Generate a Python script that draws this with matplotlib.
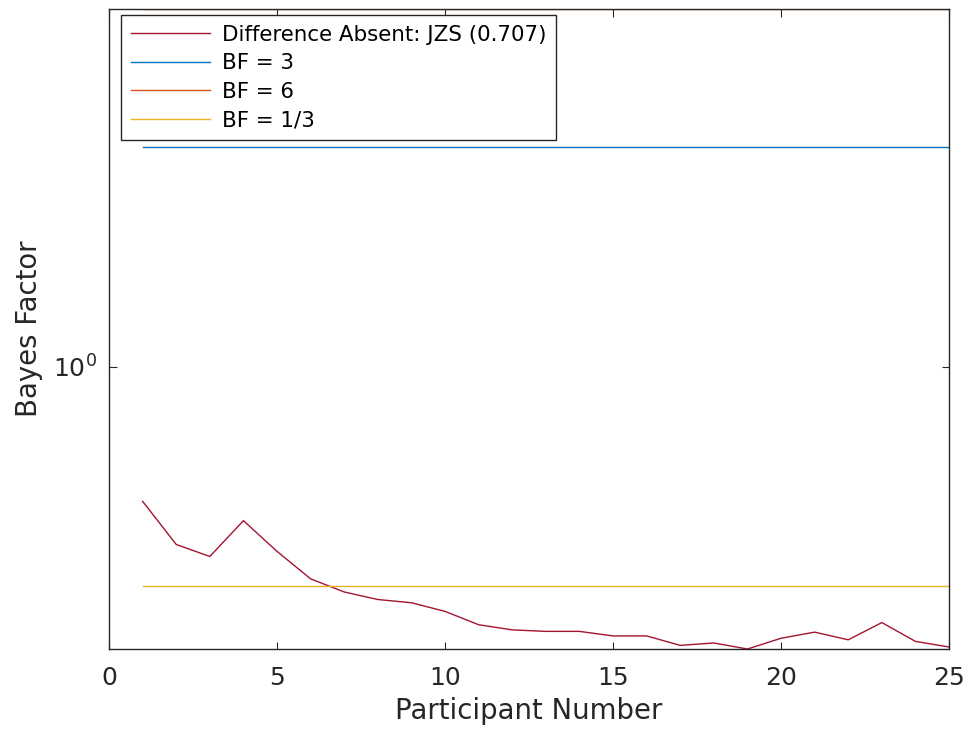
import numpy as np
import matplotlib
matplotlib.use("Agg")
import matplotlib.pyplot as plt
from matplotlib.ticker import FixedLocator, NullLocator, LogFormatterMathtext

# Bayes factor per participant (JZS prior, r = 0.707)
participants = np.arange(1, 26)
bf_absent = [0.510, 0.411, 0.387, 0.463, 0.397, 0.346, 0.324, 0.312, 0.307, 0.294,
             0.275, 0.268, 0.266, 0.266, 0.260, 0.260, 0.248, 0.251, 0.2435, 0.257,
             0.265, 0.255, 0.278, 0.253, 0.246]
thresholds = [3, 6, 1 / 3]
threshold_labels = ["BF = 3", "BF = 6", "BF = 1/3"]

fg = "#262626"
plt.rcParams["font.family"] = "DejaVu Sans"

fig = plt.figure(figsize=(9.7, 7.29), dpi=100)
ax = fig.add_axes([0.1124, 0.1097, 0.866, 0.878])

ax.plot(participants, bf_absent, color="#A2142F", lw=1.0,
        label="Difference Absent: JZS (0.707)")
for val, lab, col in zip(thresholds, threshold_labels, ["#0072BD", "#D95319", "#EDB120"]):
    ax.plot(participants, [val] * len(participants), color=col, lw=1.0, label=lab)

ax.set_yscale("log")
ax.set_xlim(0, 25)
ax.set_ylim(min(bf_absent), 6)
ax.xaxis.set_major_locator(FixedLocator([0, 5, 10, 15, 20, 25]))
ax.yaxis.set_major_locator(FixedLocator([1]))
ax.yaxis.set_major_formatter(LogFormatterMathtext())
ax.yaxis.set_minor_locator(NullLocator())

ax.tick_params(direction="in", length=5.4, width=0.8, color=fg, labelcolor=fg,
               labelsize=18, top=True, right=True)
ax.tick_params(axis="x", pad=12)
ax.tick_params(axis="y", pad=9)
for s in ax.spines.values():
    s.set_color(fg)
    s.set_linewidth(1.0)

ax.set_xlabel("Participant Number", fontsize=19.8, color=fg, labelpad=5)
ax.set_ylabel("Bayes Factor", fontsize=19.8, color=fg, labelpad=7)

leg = ax.legend(loc="upper left", bbox_to_anchor=(0.0143, 0.9906), borderaxespad=0,
                fontsize=15.4, frameon=True, fancybox=False, edgecolor=fg,
                framealpha=1, handlelength=3.7, handletextpad=0.56,
                borderpad=0.45, labelspacing=0.4)
leg.get_frame().set_linewidth(1.0)

fig.savefig("out.png", dpi=100)
